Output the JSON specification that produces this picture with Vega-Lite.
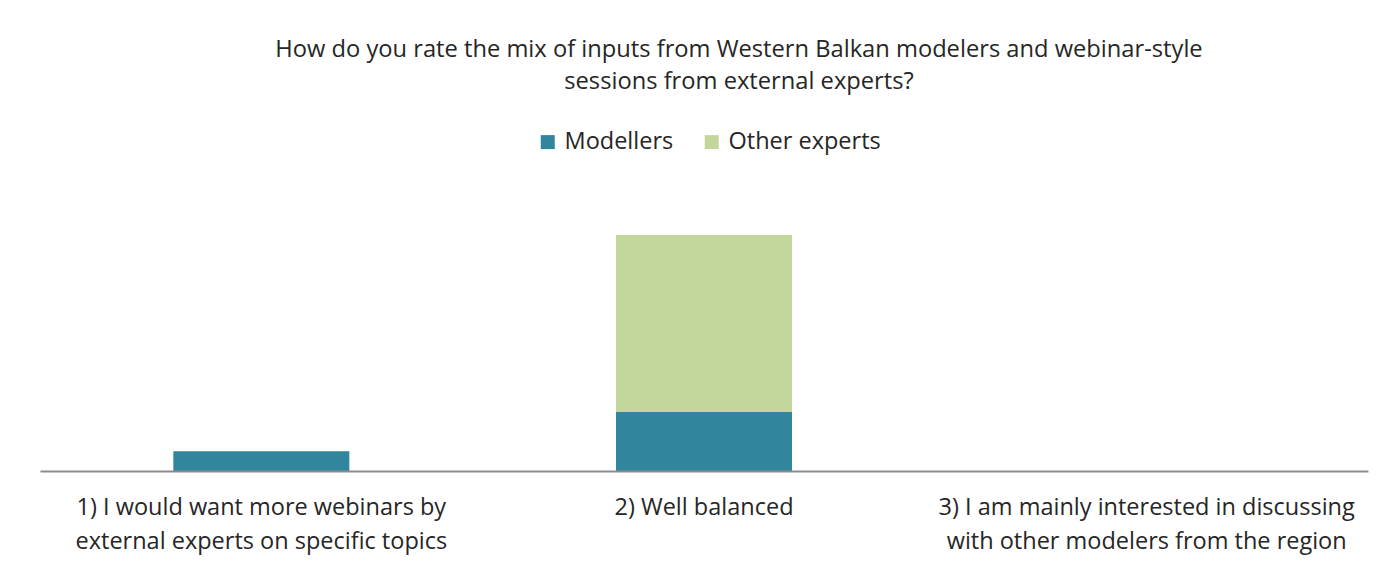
{
  "$schema": "https://vega.github.io/schema/vega-lite/v6.json",
  "autosize": {"type": "none"},
  "width": 1328,
  "height": 236,
  "padding": {"left": 40, "top": 235, "right": 15, "bottom": 98},
  "background": "white",
  "config": {
    "view": {"stroke": null},
    "font": "Open Sans",
    "text": {"color": "#262626"}
  },
  "title": {
    "text": ["How do you rate the mix of inputs from Western Balkan modelers and webinar-style", "sessions from external experts?"],
    "fontSize": 23.7,
    "fontWeight": "normal",
    "color": "#262626",
    "anchor": "middle",
    "lineHeight": 32,
    "offset": 36,
    "dx": 35
  },
  "data": {
    "values": [
      {"answer": "1) I would want more webinars by\nexternal experts on specific topics", "group": "Modellers", "count": 1},
      {"answer": "1) I would want more webinars by\nexternal experts on specific topics", "group": "Other experts", "count": 0},
      {"answer": "2) Well balanced", "group": "Modellers", "count": 3},
      {"answer": "2) Well balanced", "group": "Other experts", "count": 9},
      {"answer": "3) I am mainly interested in discussing\nwith other modelers from the region", "group": "Modellers", "count": 0},
      {"answer": "3) I am mainly interested in discussing\nwith other modelers from the region", "group": "Other experts", "count": 0}
    ]
  },
  "mark": {"type": "bar"},
  "encoding": {
    "x": {
      "field": "answer",
      "type": "nominal",
      "sort": null,
      "scale": {"paddingInner": 0.6024, "paddingOuter": 0.3012},
      "axis": {
        "title": null,
        "labelAngle": 0,
        "labelFontSize": 23.5,
        "labelColor": "#262626",
        "labelLineHeight": 34,
        "labelPadding": 24,
        "labelExpr": "split(datum.label, '\\n')",
        "ticks": false,
        "domainColor": "#8c8c8c",
        "domainWidth": 2,
        "labelLimit": 0,
        "zindex": 1
      }
    },
    "y": {
      "field": "count",
      "type": "quantitative",
      "stack": "zero",
      "scale": {"domain": [0, 12], "nice": false},
      "axis": null
    },
    "color": {
      "field": "group",
      "type": "nominal",
      "scale": {"domain": ["Modellers", "Other experts"], "range": ["#31859c", "#c3d69b"]},
      "legend": {
        "orient": "none",
        "direction": "horizontal",
        "legendX": 496,
        "legendY": -105,
        "title": null,
        "symbolType": "square",
        "symbolSize": 196,
        "symbolStrokeWidth": 0,
        "labelFontSize": 23.5,
        "labelColor": "#262626",
        "labelOffset": 5,
        "columnPadding": 26
      }
    },
    "order": {"field": "group", "sort": "ascending"}
  }
}
